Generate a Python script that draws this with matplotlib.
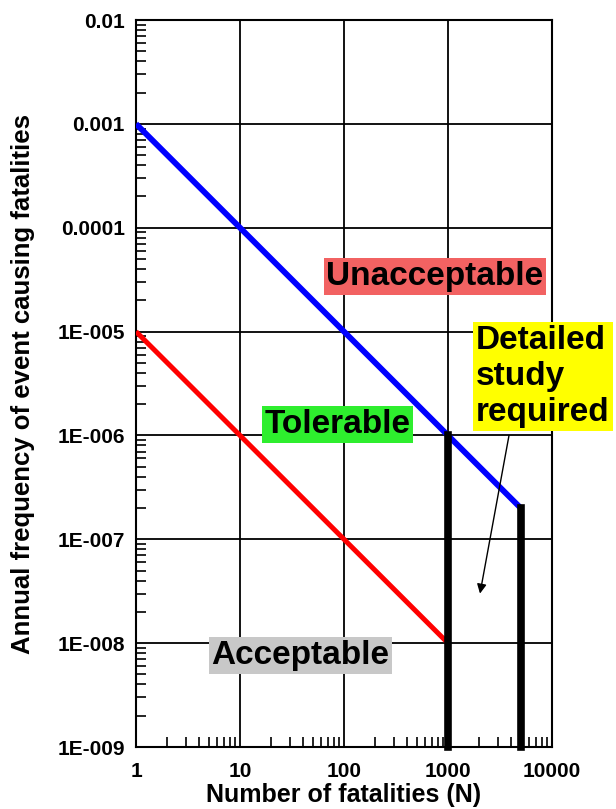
import numpy as np
import matplotlib
matplotlib.use("Agg")
import matplotlib.pyplot as plt
from matplotlib.ticker import FixedLocator, LogLocator, NullFormatter

plt.rcParams['font.family'] = ['Liberation Sans', 'DejaVu Sans']

# criterion lines (N, F)
upper_N = [1, 5000]
upper_F = [1e-3, 2e-7]
lower_N = [1, 1000]
lower_F = [1e-5, 1e-8]

# vertical limits of the "detailed study" region
limit_N = [1000, 5000]
limit_top = [1e-6, 2e-7]
limit_bottom = 1e-9

xticks = [1, 10, 100, 1000, 10000]
xticklabels = ["1", "10", "100", "1000", "10000"]
yticks = [1e-9, 1e-8, 1e-7, 1e-6, 1e-5, 1e-4, 1e-3, 1e-2]
yticklabels = ["1E-009", "1E-008", "1E-007", "1E-006", "1E-005",
               "0.0001", "0.001", "0.01"]

fig = plt.figure(figsize=(6.16, 8.09), dpi=100)
ax = fig.add_axes([136/616, 1-747/809, 416/616, 727/809])
ax.set_xscale("log")
ax.set_yscale("log")
ax.set_xlim(1, 10000)
ax.set_ylim(1e-9, 1e-2)

ax.grid(True, which="major", color="black", lw=1.3)
ax.set_axisbelow(True)

ax.plot(upper_N, upper_F, color="#0000ff", lw=4.2, solid_capstyle="butt", zorder=3)
ax.plot(lower_N, lower_F, color="#ff0000", lw=3.6, solid_capstyle="butt", zorder=3)
for n, top in zip(limit_N, limit_top):
    ax.plot([n, n], [top, limit_bottom], color="black", lw=5.5,
            solid_capstyle="projecting", clip_on=False, zorder=4)

ax.xaxis.set_major_locator(FixedLocator(xticks))
ax.set_xticklabels(xticklabels)
ax.yaxis.set_major_locator(FixedLocator(yticks))
ax.set_yticklabels(yticklabels)
ax.xaxis.set_minor_locator(LogLocator(base=10, subs=np.arange(2, 10), numticks=20))
ax.yaxis.set_minor_locator(LogLocator(base=10, subs=np.arange(2, 10), numticks=20))
ax.xaxis.set_minor_formatter(NullFormatter())
ax.yaxis.set_minor_formatter(NullFormatter())

ax.tick_params(which="major", length=0, labelsize=15)
ax.tick_params(axis="x", which="major", pad=11)
ax.tick_params(axis="y", which="major", pad=8)
ax.tick_params(which="minor", direction="in", length=7, width=1.2,
               top=False, right=False)
for lab in ax.get_xticklabels() + ax.get_yticklabels():
    lab.set_fontweight("bold")
for s in ax.spines.values():
    s.set_linewidth(1.5)

ax.set_xlabel("Number of fatalities (N)", fontsize=18, fontweight="bold", labelpad=1)
ax.set_ylabel("Annual frequency of event causing fatalities", fontsize=18.5,
              fontweight="bold", labelpad=16)

ax.text(750, 3.4e-5, "Unacceptable", fontsize=24, fontweight="bold",
        ha="center", va="center", zorder=5,
        bbox=dict(boxstyle="square,pad=0.08", fc="#f26262", ec="none"))
ax.text(86, 1.27e-6, "Tolerable", fontsize=24, fontweight="bold",
        ha="center", va="center", zorder=5,
        bbox=dict(boxstyle="square,pad=0.08", fc="#2eee2e", ec="none"))
ax.text(38, 7.6e-9, "Acceptable", fontsize=24, fontweight="bold",
        ha="center", va="center", zorder=5,
        bbox=dict(boxstyle="square,pad=0.08", fc="#c8c8c8", ec="none"))
ax.text(1860, 1.15e-5, "Detailed\nstudy\nrequired", fontsize=24, fontweight="bold",
        ha="left", va="top", linespacing=1.2, zorder=5,
        bbox=dict(boxstyle="square,pad=0.1", fc="#ffff00", ec="none"))
ax.annotate("", xy=(2030, 3.0e-8), xytext=(3860, 1e-6),
            arrowprops=dict(arrowstyle="-|>", color="black", lw=1,
                            mutation_scale=14, shrinkA=0, shrinkB=0), zorder=5)

fig.savefig("out.png", dpi=100)
